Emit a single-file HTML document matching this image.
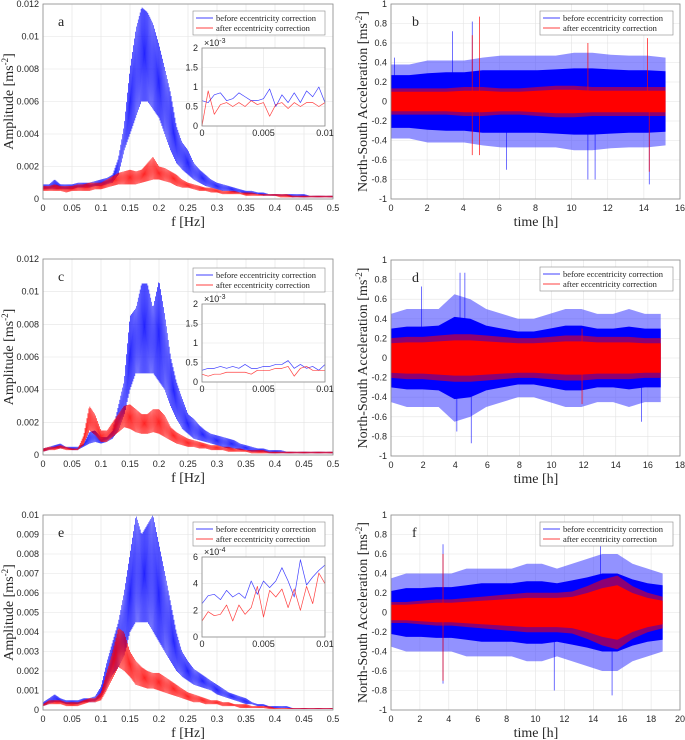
<!DOCTYPE html>
<html><head><meta charset="utf-8"><style>
html,body{margin:0;padding:0;background:#fff;}
svg{display:block;}
.tk{font-family:"Liberation Sans",sans-serif;font-size:9px;fill:#262626;}
.lab{font-family:"Liberation Serif",serif;font-size:14px;fill:#262626;}
.leg{font-family:"Liberation Serif",serif;font-size:8.5px;fill:#262626;}
</style></head><body>
<svg id="fig" width="685" height="740" viewBox="0 0 685 740" xmlns="http://www.w3.org/2000/svg"></svg>
<script>
// ---------- DATA ----------
const freqStep = 0.01; // spectra sampled every 0.01 Hz from 0 to 0.5
const aBlueUp=[.0009,.0009,.0012,.0009,.0009,.0009,.001,.001,.001,.0011,.0012,.0013,.0015,.0025,.0045,.008,.0105,.0118,.0115,.0108,.0095,.008,.0065,.0045,.0035,.003,.0022,.0018,.0015,.0012,.001,.0009,.0008,.0007,.0006,.0005,.0005,.0004,.0004,.0003,.0003,.0003,.0003,.0003,.0003,.0003,.0002,.0002,.0002,.0002,.0002];
const aBlueLo=[.0006,.0006,.0006,.0006,.0006,.0006,.0007,.0007,.0007,.0008,.0008,.0009,.001,.0015,.003,.004,.005,.006,.006,.0055,.005,.004,.003,.0022,.0018,.0015,.0012,.001,.0008,.0007,.0006,.0005,.0005,.0004,.0004,.0003,.0003,.0003,.0002,.0002,.0002,.0002,.0002,.0001,.0001,.0001,.0001,.0001,.0001,.0001,.0001];
const aRedUp=[.0008,.0008,.0009,.0008,.0008,.0008,.0009,.0009,.001,.001,.001,.0012,.0014,.0016,.0017,.0018,.0017,.0018,.0022,.0026,.002,.0019,.0017,.0015,.0012,.001,.0009,.0008,.0007,.0007,.0006,.0005,.0005,.0005,.0004,.0004,.0004,.0003,.0003,.0003,.0003,.0003,.0003,.0002,.0002,.0002,.0002,.0002,.0002,.0002,.0002];
const aRedLo=[.0005,.0005,.0005,.0005,.0004,.0005,.0005,.0005,.0005,.0006,.0006,.0007,.0008,.0009,.0009,.0009,.0009,.001,.0011,.0012,.0012,.0011,.001,.0008,.0007,.0007,.0006,.0005,.0005,.0004,.0004,.0003,.0003,.0003,.0003,.0002,.0002,.0002,.0002,.0002,.0002,.0001,.0001,.0001,.0001,.0001,.0001,.0001,.0001,.0001,.0001];
const cBlueUp=[.0004,.0005,.0006,.0007,.0005,.0005,.0005,.0007,.0014,.0015,.0011,.0011,.0015,.003,.0045,.0085,.009,.0105,.0105,.009,.0107,.0085,.006,.0045,.0035,.0025,.0022,.0018,.0015,.0013,.0012,.0011,.001,.0009,.0007,.0006,.0005,.0004,.0004,.0003,.0003,.0003,.0002,.0002,.0002,.0002,.0002,.0002,.0002,.0002,.0002];
const cBlueLo=[.0002,.0003,.0004,.0004,.0004,.0003,.0003,.0005,.0007,.0008,.0007,.0008,.001,.0015,.0025,.004,.005,.005,.005,.005,.0045,.004,.003,.0022,.0016,.0013,.001,.0009,.0008,.0007,.0006,.0005,.0004,.0004,.0003,.0003,.0002,.0002,.0002,.0001,.0001,.0001,.0001,.0001,.0001,.0001,.0001,.0001,.0001,.0001,.0001];
const cRedUp=[.0004,.0005,.0005,.0006,.0005,.0004,.0004,.0012,.003,.0025,.0015,.0015,.002,.0025,.003,.0031,.0028,.0025,.0025,.0028,.0028,.0024,.0017,.0014,.0012,.001,.0009,.0008,.0007,.0006,.0006,.0005,.0005,.0004,.0004,.0003,.0003,.0003,.0003,.0002,.0002,.0002,.0002,.0002,.0002,.0002,.0002,.0002,.0002,.0002,.0002];
const cRedLo=[.0002,.0003,.0003,.0004,.0003,.0003,.0003,.0006,.0015,.0012,.0008,.0008,.0011,.0014,.0017,.0016,.0014,.0013,.0013,.0014,.0013,.0011,.0009,.0007,.0006,.0005,.0005,.0004,.0004,.0003,.0003,.0003,.0002,.0002,.0002,.0002,.0001,.0001,.0001,.0001,.0001,.0001,.0001,.0001,.0001,.0001,.0001,.0001,.0001,.0001,.0001];
const eBlueUp=[.0004,.0006,.0008,.0006,.0005,.0005,.0005,.0006,.0006,.0007,.0012,.0025,.0035,.0045,.006,.008,.01,.009,.0095,.01,.0085,.007,.0055,.004,.003,.0025,.0021,.0019,.0017,.0015,.0013,.0011,.0009,.0008,.0007,.0006,.0004,.0003,.0003,.0002,.0002,.0002,.0002,.0001,.0001,.0001,.0001,.0001,.0001,.0001,.0001];
const eBlueLo=[.0002,.0003,.0004,.0004,.0003,.0003,.0003,.0004,.0004,.0004,.0007,.0012,.0018,.0022,.0028,.004,.0045,.0045,.0045,.004,.0035,.003,.0025,.002,.0017,.0015,.0013,.0012,.0011,.001,.0008,.0007,.0006,.0005,.0004,.0003,.0003,.0002,.0002,.0001,.0001,.0001,.0001,.00005,.00005,.00005,.00005,.00005,.00005,.00005,.00005];
const eRedUp=[.0003,.0005,.0005,.0005,.0004,.0004,.0004,.0005,.0006,.0006,.0009,.002,.003,.0042,.004,.003,.0025,.0022,.002,.0019,.0019,.0017,.0015,.0013,.0011,.0009,.0008,.0007,.0006,.0005,.0005,.0004,.0004,.0003,.0003,.0003,.0002,.0002,.0002,.0002,.0001,.0001,.0001,.0001,.0001,.0001,.0001,.0001,.0001,.0001,.0001];
const eRedLo=[.0002,.0003,.0003,.0003,.0002,.0002,.0002,.0003,.0004,.0004,.0005,.001,.0016,.0022,.002,.0017,.0013,.0012,.0011,.0011,.001,.0009,.0008,.0007,.0006,.0005,.0004,.0004,.0003,.0003,.0003,.0002,.0002,.0002,.0001,.0001,.0001,.0001,.0001,.00005,.00005,.00005,.00005,.00005,.00005,.00005,.00005,.00005,.00005,.00005,.00005];
// insets, 21 samples 0..0.01 Hz
const aInBlue=[0.65,0.6,0.8,0.85,0.65,0.7,0.85,0.75,0.65,0.65,0.7,0.95,0.5,0.8,0.6,0.85,0.6,0.9,0.75,1.0,0.6];
const aInRed=[0,0.9,0.3,0.55,0.6,0.5,0.6,0.5,0.65,0.55,0.6,0.25,0.55,0.6,0.45,0.6,0.5,0.6,0.6,0.5,0.6];
const cInBlue=[0.3,0.35,0.35,0.4,0.35,0.4,0.35,0.45,0.35,0.35,0.4,0.4,0.45,0.45,0.55,0.35,0.45,0.35,0.4,0.3,0.45];
const cInRed=[0.2,0.15,0.2,0.2,0.25,0.25,0.25,0.25,0.2,0.3,0.3,0.3,0.35,0.35,0.4,0.15,0.35,0.4,0.3,0.3,0.3];
const eInBlue=[2.5,3.1,3.2,2.8,3.5,3.0,3.3,2.9,4.2,3.2,4.2,3.7,4.2,5.2,4.2,3.0,5.8,3.9,4.5,5.0,5.4];
const eInRed=[1.2,1.9,1.6,1.7,2.4,1.2,2.4,1.7,2.2,3.8,1.5,3.5,3.0,3.6,2.2,3.6,2.0,3.8,2.5,4.8,4.0];
// time series envelopes (evenly spaced over the record length)
const bBluePeak=[0.38,0.38,0.42,0.42,0.42,0.45,0.47,0.47,0.47,0.47,0.5,0.5,0.48,0.47,0.47,0.45];
const bBlueCore=[0.27,0.27,0.29,0.3,0.3,0.32,0.32,0.32,0.32,0.33,0.34,0.34,0.33,0.32,0.32,0.31];
const bRedCore=[0.1,0.1,0.1,0.1,0.11,0.11,0.1,0.1,0.11,0.12,0.12,0.11,0.11,0.11,0.11,0.11];
const dBluePeak=[0.45,0.5,0.5,0.5,0.65,0.6,0.5,0.45,0.4,0.4,0.45,0.5,0.5,0.45,0.45,0.5,0.45,0.45];
const dBlueCore=[0.3,0.32,0.32,0.33,0.42,0.4,0.33,0.3,0.27,0.27,0.3,0.33,0.33,0.3,0.3,0.32,0.3,0.3];
const dRedCore=[0.15,0.16,0.16,0.17,0.18,0.18,0.17,0.16,0.15,0.15,0.16,0.17,0.17,0.16,0.16,0.16,0.15,0.15];
const fBluePeak=[0.35,0.4,0.4,0.4,0.4,0.45,0.45,0.45,0.45,0.5,0.5,0.45,0.5,0.55,0.6,0.6,0.5,0.45,0.4];
const fBlueCore=[0.22,0.25,0.25,0.26,0.26,0.28,0.3,0.3,0.3,0.32,0.32,0.3,0.33,0.36,0.4,0.4,0.34,0.3,0.28];
const fRedCore=[0.08,0.08,0.09,0.1,0.1,0.11,0.12,0.13,0.14,0.15,0.15,0.15,0.16,0.2,0.25,0.28,0.2,0.15,0.12];
const bBlueSpikes=[[4.5,0.82],[3.4,0.72],[11.3,-0.8],[14.3,-0.85],[10.9,-0.8],[6.4,-0.7],[0.2,0.45]];
const bRedSpikes=[[4.9,0.87],[4.9,-0.55],[4.5,-0.55],[4.5,0.68],[14.2,0.65],[14.3,-0.72],[10.9,0.6]];
const dBlueSpikes=[[4.6,0.87],[4.3,0.87],[5,-0.87],[1.9,0.73],[4.1,-0.75],[15.6,-0.65]];
const dRedSpikes=[[11.9,0.3],[11.9,-0.47]];
const fBlueSpikes=[[3.6,0.7],[3.6,-0.73],[11.3,-0.8],[15.3,-0.85],[14.5,0.68]];
const fRedSpikes=[[3.6,0.6],[3.6,-0.7]];
const specTicksX=[0,0.05,0.1,0.15,0.2,0.25,0.3,0.35,0.4,0.45,0.5];

// ---------- DRAWING ----------
const svg=document.getElementById('fig');
const NS='http://www.w3.org/2000/svg';
function mk(tag,attrs,parent){const e=document.createElementNS(NS,tag);for(const k in attrs)e.setAttribute(k,attrs[k]);(parent||svg).appendChild(e);return e;}
function txt(x,y,s,cls,anchor,parent){const t=mk('text',{x:x,y:y,class:cls,'text-anchor':anchor||'middle'},parent);t.textContent=s;return t;}
function interp(arr,step,x){const i=Math.min(Math.floor(x/step),arr.length-2);const f=x/step-i;return arr[i]*(1-f)+arr[i+1]*f;}

function axes(g,box,xr,yr,xt,yt,fmtX,fmtY,small){
  const sx=v=>box.x+(v-xr[0])/(xr[1]-xr[0])*box.w;
  const sy=v=>box.y+box.h-(v-yr[0])/(yr[1]-yr[0])*box.h;
  mk('rect',{x:box.x,y:box.y,width:box.w,height:box.h,fill:'#fff'},g);
  xt.forEach(v=>{mk('line',{x1:sx(v),x2:sx(v),y1:box.y,y2:box.y+box.h,stroke:'#e3e3e3','stroke-width':0.6},g);
    const t=txt(sx(v),box.y+box.h+(small?10:12),fmtX(v),'tk','middle',g);
    
    });
  yt.forEach(v=>{mk('line',{x1:box.x,x2:box.x+box.w,y1:sy(v),y2:sy(v),stroke:'#e3e3e3','stroke-width':0.6},g);
    const t=txt(box.x-4,sy(v)+3,fmtY(v),'tk','end',g);
    
    });
  return {sx,sy};
}
function frame(g,box){const r=mk('rect',{x:box.x,y:box.y,width:box.w,height:box.h,fill:'none',stroke:'#8a8a8a','stroke-width':0.8},g);}

function zigzag(g,sx,sy,up,lo,color,xmax,n,name){
  let d='';for(let i=0;i<=n;i++){const x=xmax*i/n;const v=(i%2?interp(up,freqStep,x):interp(lo,freqStep,x));d+=(i?'L':'M')+sx(x).toFixed(2)+','+sy(v).toFixed(2);}
  const p=mk('path',{d:d,fill:'none',stroke:color,'stroke-width':0.5,'stroke-opacity':0.85},g);
  
  
}
function legend(g,x,y,w){
  const r=mk('rect',{x:x,y:y,width:w,height:24,fill:'#fff',stroke:'#8a8a8a','stroke-width':0.6},g);
  
  
  mk('line',{x1:x+3,x2:x+20,y1:y+7,y2:y+7,stroke:'#0000ff','stroke-width':0.8},g);
  const t1=txt(x+23,y+10,'before eccentricity correction','leg','start',g);
  
  
  mk('line',{x1:x+3,x2:x+20,y1:y+17,y2:y+17,stroke:'#ff0000','stroke-width':0.8},g);
  const t2=txt(x+23,y+20,'after eccentricity correction','leg','start',g);
  
  
}
function fmtNum(v){return String(+v.toFixed(4)).replace(/^0\./,'0.');}

function spectrum(name,letter,top,bot,ymax,yt,bu,bl,ru,rl,inset,inB,inR,inYmax,inYt,inExp,legY){
  const g=mk('g',{});
  
  
  const box={x:43,y:top,w:290,h:bot-top};
  const {sx,sy}=axes(g,box,[0,0.5],[0,ymax],specTicksX,yt,fmtNum,fmtNum);
  const cg=mk('g',{},g);
  zigzag(cg,sx,sy,bu,bl,'#0000ff',0.5,600,'series-before');
  zigzag(cg,sx,sy,ru,rl,'#ff0000',0.5,600,'series-after');
  frame(g,box);
  const L=txt(58,top+22,letter,'lab','start',g);
  legend(g,193,legY,132);
  const ib={x:202,y:inset[0],w:123,h:inset[1]-inset[0]};
  const ig=mk('g',{},g);
  
  
  const ia=axes(ig,ib,[0,0.01],[0,inYmax],[0,0.005,0.01],inYt,fmtNum,v=>String(v),true);
  const n=inB.length;
  [[inB,'#0000ff','inset-series-before'],[inR,'#ff0000','inset-series-after']].forEach(([arr,col,nm])=>{
    let d='';arr.forEach((v,i)=>{d+=(i?'L':'M')+ia.sx(0.01*i/(n-1)).toFixed(2)+','+ia.sy(v).toFixed(2);});
    const p=mk('path',{d:d,fill:'none',stroke:col,'stroke-width':0.7,'stroke-opacity':0.75,'stroke-linejoin':'round'},ig);
    
    
  });
  frame(ig,ib);
  const ex=mk('text',{x:ib.x+2,y:ib.y-2,class:'tk','text-anchor':'start'},ig);
  ex.innerHTML='×10<tspan dy="-3" font-size="7">'+inExp+'</tspan>';
  
  
  const xl=txt(188,bot+27,'f [Hz]','lab','middle',g);
  
  
  const yl=mk('text',{x:0,y:0,class:'lab','text-anchor':'middle',transform:`translate(13,${(top+bot)/2}) rotate(-90)`},g);
  yl.innerHTML='Amplitude [ms<tspan dy="-5" font-size="9">-2</tspan><tspan dy="5">]</tspan>';
  
  
}

function band(g,sx,sy,env,tmax,color,op,name){
  const n=env.length;
  const pts=env.map((v,i)=>[tmax*i/(n-1),v]);
  let d='';pts.forEach((p,i)=>{d+=(i?'L':'M')+sx(p[0]).toFixed(2)+','+sy(p[1]).toFixed(2);});
  for(let i=pts.length-1;i>=0;i--){d+='L'+sx(pts[i][0]).toFixed(2)+','+sy(-pts[i][1]).toFixed(2);}
  const p=mk('path',{d:d+'Z',fill:color,'fill-opacity':op},g);
  
  
}
function timeSeries(name,letter,top,bot,xmax,tmax,xt,bp,bc,rc,bs,rs){
  const g=mk('g',{});
  
  
  const box={x:391,y:top,w:289,h:bot-top};
  const yt=[-1,-0.8,-0.6,-0.4,-0.2,0,0.2,0.4,0.6,0.8,1];
  const {sx,sy}=axes(g,box,[0,xmax],[-1,1],xt,yt,v=>String(v),v=>String(+v.toFixed(1)));
  band(g,sx,sy,bp,tmax,'#4a4aff',0.6,'series-before-peak');
  band(g,sx,sy,bc,tmax,'#0000ff',1,'series-before');
  bs.forEach(s=>{const l=mk('line',{x1:sx(s[0]),x2:sx(s[0]),y1:sy(0),y2:sy(s[1]),stroke:'#0000ff','stroke-width':0.8,'stroke-opacity':0.7},g);});
  band(g,sx,sy,rc.map(v=>v*1.35),tmax,'#ff0000',0.55,'series-after-peak');
  band(g,sx,sy,rc,tmax,'#ff0000',1,'series-after');
  rs.forEach(s=>{const l=mk('line',{x1:sx(s[0]),x2:sx(s[0]),y1:sy(0),y2:sy(s[1]),stroke:'#ff0000','stroke-width':0.9,'stroke-opacity':0.75},g);});
  frame(g,box);
  const L=txt(412,top+22,letter,'lab','start',g);
  legend(g,540,top+7,133);
  const xl=txt(536,bot+27,'time [h]','lab','middle',g);
  
  
  const yl=mk('text',{x:0,y:0,class:'lab','text-anchor':'middle',transform:`translate(367,${(top+bot)/2}) rotate(-90)`},g);
  yl.innerHTML='North-South Acceleration [ms<tspan dy="-5" font-size="9">-2</tspan><tspan dy="5">]</tspan>';
  
  
}

spectrum('panel-a','a',4,199,0.012,[0,0.002,0.004,0.006,0.008,0.01,0.012],aBlueUp,aBlueLo,aRedUp,aRedLo,[48,126],aInBlue,aInRed,2,[0,0.5,1,1.5,2],'-3',11);
spectrum('panel-c','c',259,455,0.012,[0,0.002,0.004,0.006,0.008,0.01,0.012],cBlueUp,cBlueLo,cRedUp,cRedLo,[304,382],cInBlue,cInRed,2,[0,0.5,1,1.5,2],'-3',268);
spectrum('panel-e','e',515,710,0.01,[0,0.001,0.002,0.003,0.004,0.005,0.006,0.007,0.008,0.009,0.01],eBlueUp,eBlueLo,eRedUp,eRedLo,[557,637],eInBlue,eInRed,6,[0,2,4,6],'-4',522);
timeSeries('panel-b','b',4,199,16,15.2,[0,2,4,6,8,10,12,14,16],bBluePeak,bBlueCore,bRedCore,bBlueSpikes,bRedSpikes);
timeSeries('panel-d','d',260,456,18,16.8,[0,2,4,6,8,10,12,14,16,18],dBluePeak,dBlueCore,dRedCore,dBlueSpikes,dRedSpikes);
timeSeries('panel-f','f',515,710,20,18.8,[0,2,4,6,8,10,12,14,16,18,20],fBluePeak,fBlueCore,fRedCore,fBlueSpikes,fRedSpikes);
</script>
</body></html>
